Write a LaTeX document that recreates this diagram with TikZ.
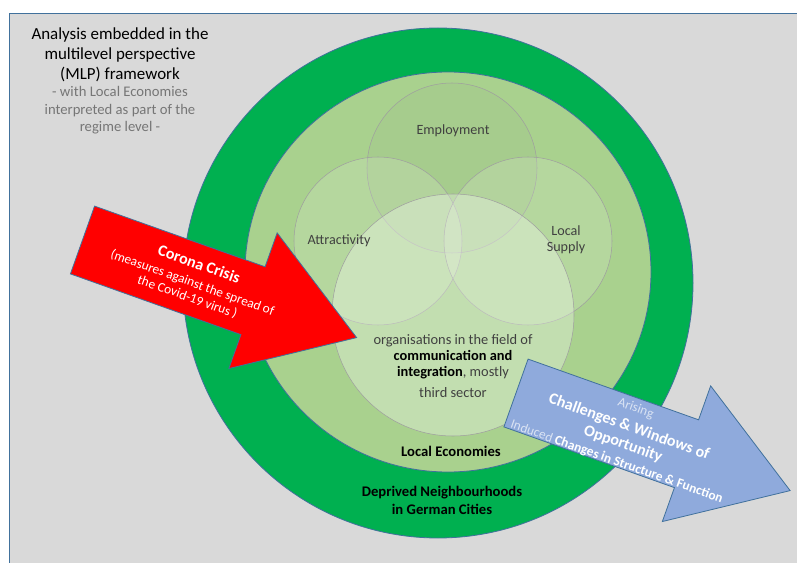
\documentclass[tikz,border=0pt]{standalone}
\usepackage{fontspec}
\setmainfont{Carlito}
\usepackage{tikz}
\usetikzlibrary{positioning}

\definecolor{bggrey}{HTML}{D9D9D9}
\definecolor{deepgreen}{HTML}{00B050}
\definecolor{leafgreen}{HTML}{A9D18E}
\definecolor{crisisred}{HTML}{FF0000}
\definecolor{chanceblue}{HTML}{8FAADC}
\definecolor{edgeblue}{HTML}{41719C}
\definecolor{darktext}{HTML}{404040}
\definecolor{greytext}{HTML}{767676}
\definecolor{paleblue}{HTML}{DAE3F3}

\tikzset{
    ring/.style={draw=edgeblue, line width=0.6pt},
    venn/.style={draw=gray!75, line width=0.4pt, fill=white, fill opacity=0.15},
    bigarrow/.style={draw=edgeblue, line width=0.6pt},
    venntext/.style={text=darktext, align=center, inner sep=0pt, font=\fontsize{10.6}{12}\selectfont},
    ringtext/.style={align=center, inner sep=0pt, font=\bfseries\fontsize{11}{13.5}\selectfont},
    arrowtext/.style={text=white, align=center, inner sep=0pt, transform shape}
}

\begin{document}
\begin{tikzpicture}[x=0.75pt, y=-0.75pt]
    \useasboundingbox (0,0) rectangle (797,563);
    % background
    \fill[bggrey] (9,13) rectangle (797,563);
    \draw[edgeblue, line width=0.6pt] (9,563) -- (9,13) -- (797,13);

    % rings
    \draw[ring, fill=deepgreen] (438,283) circle (255);
    \draw[ring, fill=leafgreen] (448,272) ellipse (203 and 200);

    % venn
    \draw[venn, fill=gray, fill opacity=0.06] (452,168) circle (85);
    \draw[venn] (378,241) circle (84);
    \draw[venn] (528,241) circle (84);
    \draw[venn, fill opacity=0.3] (453,315) circle (121);

    \node[venntext] (employment) at (453,131) {Employment};
    \node[venntext] (attractivity) at (339,241) {Attractivity};
    \node[venntext] (supply) at (566,240) {Local\\Supply};
    \node[venntext, font=\fontsize{10.8}{11.7}\selectfont] (organisations) at (453,366) {organisations in the field of\\
        \textcolor{black}{\textbf{communication and}}\\
        \textcolor{black}{\textbf{integration}}, mostly\\[4pt]
        third sector};

    \node[ringtext] (economies) at (451,451) {Local Economies};
    \node[ringtext] (neighbourhoods) at (442,500) {Deprived Neighbourhoods\\in German Cities};

    % mlp note
    \node[align=center, inner sep=0pt, font=\fontsize{12.7}{15}\selectfont] (mlp) at (120,55) {Analysis embedded in the\\multilevel perspective\\(MLP) framework};
    \node[below=3pt of mlp, align=center, inner sep=0pt, text=greytext, font=\fontsize{11}{13.1}\selectfont] (regime) {- with Local Economies\\interpreted as part of the\\regime level -};

    % corona arrow
    \begin{scope}[shift={(82.5,240)}, rotate=-19.6]
        \draw[bigarrow, fill=crisisred] (0,-36) -- (181,-36) -- (181,-72) -- (291,0) -- (181,72) -- (181,36) -- (0,36) -- cycle;
        \node[arrowtext, font=\fontsize{10}{11.2}\selectfont] (corona) at (118,1) {{\bfseries\fontsize{12}{14}\selectfont Corona Crisis}\\[2.8pt]
            (measures against the spread of\\the Covid-19 virus )};
    \end{scope}

    % challenges arrow
    \begin{scope}[shift={(516,393)}, rotate=-19.6]
        \draw[bigarrow, fill=chanceblue] (0,-36) -- (181,-36) -- (181,-72) -- (291,0) -- (181,72) -- (181,36) -- (0,36) -- cycle;
        \node[arrowtext, font=\fontsize{10}{13.6}\selectfont] (challenges) at (118,3) {\textcolor{paleblue}{Arising}\\[1.8pt]
            {\bfseries\fontsize{12}{14}\selectfont Challenges \& Windows of}\\
            {\bfseries\fontsize{12}{14}\selectfont Opportunity}\\
            \textcolor{paleblue}{Induced} \textbf{Changes in Structure \& Function}};
    \end{scope}
\end{tikzpicture}
\end{document}
